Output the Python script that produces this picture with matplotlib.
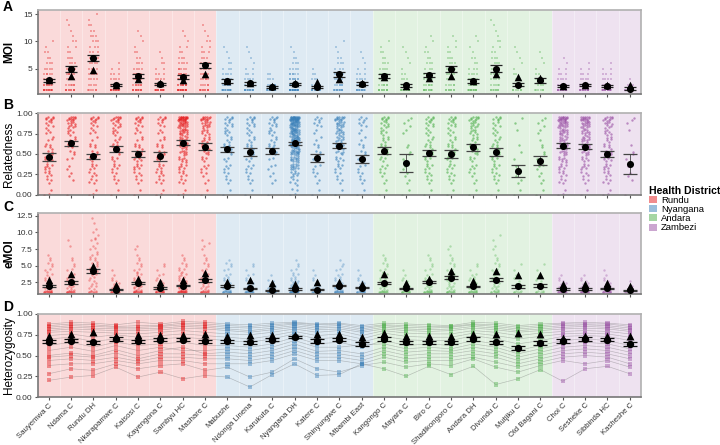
import matplotlib
matplotlib.use('Agg')
import matplotlib.pyplot as plt
import numpy as np
from matplotlib.patches import Patch

plt.rcParams['font.family'] = ['Liberation Sans', 'DejaVu Sans']

sites = ['Sauyemwa C', 'Ndama C', 'Rundu DH', 'Nkarapamwe C', 'Kaisosi C', 'Kayengona C',
         'Sambyu HC', 'Mashare C', 'Mabushe', 'Ndonga Linena', 'Karukuta C', 'Nyangana DH',
         'Katere C', 'Shinyungwe C', 'Mbambi East', 'Kangongo C', 'Mayara C', 'Biro C',
         'Shadikongoro C', 'Andara DH', 'Divundu C', 'Mutjiku C', 'Old Bagani C', 'Choi C',
         'Sesheke C', 'Sibbinda HC', 'Kasheshe C']
districts = ['Rundu', 'Nyangana', 'Andara', 'Zambezi']
district_size = [8, 7, 8, 4]
dcolors = ['#E41A1C', '#377EB8', '#4DAF4A', '#984EA3']

# MOI: number of samples at MOI = 1, 2, 3, ...
moi_counts = [
    [14, 8, 6, 5, 4, 3, 2, 2, 1, 1],
    [10, 6, 5, 5, 4, 3, 3, 2, 2, 2, 1, 1, 1, 1],
    [6, 4, 4, 4, 4, 4, 4, 3, 3, 3, 3, 2, 2, 1, 1],
    [14, 6, 4, 3, 2, 1],
    [12, 7, 6, 5, 4, 3, 2, 2, 1, 1, 1, 1],
    [14, 6, 4, 3, 2, 2, 1, 1],
    [18, 10, 8, 6, 5, 4, 3, 2, 2, 1, 1, 1],
    [10, 5, 5, 5, 4, 4, 3, 3, 2, 2, 1, 1, 1],
    [14, 6, 5, 4, 3, 2, 1, 1, 1],
    [14, 6, 4, 3, 2, 1, 1, 1, 1],
    [12, 5, 3, 2],
    [24, 12, 8, 6, 4, 3, 2, 1, 1],
    [10, 4, 3, 2, 1],
    [12, 6, 5, 4, 3, 3, 2, 1, 1, 1],
    [12, 6, 4, 3, 2, 1, 1, 1],
    [10, 6, 5, 4, 4, 3, 2, 2, 1, 1],
    [10, 4, 3, 2, 1, 1, 1, 1, 1],
    [10, 6, 5, 4, 3, 3, 2, 2, 1, 1, 1],
    [8, 5, 5, 4, 4, 3, 3, 2, 2, 1, 1],
    [12, 6, 5, 4, 3, 2, 2, 1, 1, 1, 1],
    [8, 5, 4, 4, 3, 3, 3, 2, 2, 2, 1, 1, 1, 1],
    [6, 3, 2, 2, 1, 1, 1, 1, 1],
    [6, 3, 3, 2, 1, 1, 1, 1],
    [14, 7, 4, 3, 2, 1, 1],
    [14, 7, 4, 3, 2, 1],
    [14, 6, 4, 3, 2, 1],
    [6, 3, 1],
]
moi_mean = [2.8, 5.0, 7.0, 2.0, 3.6, 2.2, 3.4, 5.6, 2.7, 2.3, 1.6, 2.2, 1.6, 3.9, 2.2,
            3.6, 1.9, 3.8, 4.9, 2.7, 5.0, 2.0, 2.8, 1.7, 1.9, 1.8, 1.3]
moi_tri = [2.8, 3.6, 4.8, 2.0, 3.1, 2.3, 2.8, 3.9, 2.7, 2.4, 1.8, 2.3, 2.5, 3.1, 2.4,
           3.5, 1.8, 3.2, 3.6, 2.7, 3.9, 3.4, 3.3, 1.8, 1.9, 2.0, 1.9]
moi_se = [0.3, 0.55, 0.55, 0.2, 0.35, 0.2, 0.35, 0.5, 0.3, 0.3, 0.2, 0.2, 0.2, 0.45, 0.3,
          0.4, 0.3, 0.45, 0.5, 0.3, 0.6, 0.3, 0.4, 0.2, 0.2, 0.2, 0.2]

# relatedness: pair counts per 0.1 bin (0-0.1 ... 0.9-1.0)
rel_counts = [
    [3, 3, 5, 6, 6, 5, 4, 4, 5, 8],
    [1, 1, 2, 2, 3, 4, 5, 6, 9, 11],
    [3, 4, 4, 5, 5, 4, 3, 4, 5, 8],
    [2, 3, 3, 5, 5, 5, 5, 6, 7, 10],
    [2, 3, 4, 6, 6, 5, 4, 4, 5, 8],
    [3, 4, 5, 5, 5, 4, 4, 4, 4, 6],
    [3, 4, 5, 7, 8, 10, 12, 15, 20, 26],
    [2, 2, 3, 4, 5, 6, 7, 8, 11, 13],
    [2, 3, 3, 4, 4, 5, 5, 6, 6, 6],
    [2, 3, 3, 4, 4, 5, 5, 5, 6, 6],
    [1, 2, 2, 3, 3, 4, 5, 6, 6, 6],
    [4, 5, 8, 13, 16, 22, 26, 30, 34, 40],
    [2, 2, 3, 3, 3, 3, 3, 3, 4, 4],
    [2, 3, 3, 5, 6, 8, 10, 12, 13, 13],
    [2, 3, 3, 3, 3, 3, 3, 3, 4, 4],
    [2, 2, 3, 4, 5, 6, 6, 6, 7, 8],
    [2, 2, 2, 2, 2, 2, 1, 2, 2, 2],
    [2, 3, 4, 5, 5, 5, 5, 5, 6, 7],
    [2, 3, 4, 5, 5, 5, 5, 5, 6, 7],
    [2, 2, 3, 4, 5, 6, 6, 8, 9, 10],
    [2, 3, 4, 5, 5, 5, 5, 5, 5, 6],
    [2, 2, 2, 1, 1, 1, 1, 1, 1, 1],
    [2, 2, 2, 3, 2, 2, 2, 2, 2, 2],
    [3, 4, 5, 7, 8, 10, 12, 15, 18, 22],
    [2, 3, 4, 6, 7, 9, 11, 12, 15, 17],
    [3, 4, 5, 6, 6, 6, 6, 7, 8, 10],
    [1, 1, 2, 1, 2, 1, 1, 1, 1, 2],
]
rel_mean = [0.465, 0.63, 0.47, 0.56, 0.50, 0.47, 0.64, 0.59, 0.555, 0.52, 0.535, 0.63, 0.45, 0.60,
            0.44, 0.54, 0.385, 0.51, 0.50, 0.58, 0.52, 0.29, 0.42, 0.60, 0.59, 0.50, 0.38]
rel_se = [0.05, 0.03, 0.03, 0.04, 0.04, 0.05, 0.03, 0.04, 0.03, 0.05, 0.04, 0.02, 0.05, 0.03,
          0.05, 0.04, 0.11, 0.04, 0.05, 0.04, 0.05, 0.07, 0.06, 0.03, 0.03, 0.04, 0.12]

# eMOI: sample counts per bin
emoi_edges = [1.0, 1.2, 2, 3, 4, 5, 6, 7, 8, 9, 10, 11, 12, 12.4]
emoi_counts = [
    [14, 6, 6, 4, 4, 3, 2],
    [12, 6, 5, 4, 3, 2, 1, 1, 1],
    [8, 4, 4, 5, 6, 5, 4, 4, 3, 2, 2, 1, 1],
    [14, 6, 4, 2, 1],
    [14, 8, 6, 5, 4, 3, 2, 2],
    [14, 6, 4, 3, 2, 1],
    [20, 10, 8, 6, 5, 3, 2],
    [12, 6, 6, 5, 4, 3, 2, 2, 2],
    [14, 8, 5, 4, 3, 3],
    [14, 6, 4, 3, 2, 1],
    [12, 4, 3, 1],
    [24, 14, 8, 5, 3, 2],
    [10, 4, 3, 2, 1],
    [16, 8, 6, 4, 3, 2],
    [12, 6, 4, 2, 1],
    [12, 6, 6, 5, 4, 3, 2],
    [10, 4, 3, 2, 1],
    [12, 6, 5, 4, 3, 2, 2],
    [10, 6, 6, 5, 4, 3, 2, 2],
    [12, 6, 5, 4, 2, 1],
    [8, 6, 5, 4, 4, 3, 2, 2, 1, 1],
    [6, 3, 2, 2, 1, 1],
    [6, 3, 3, 2, 1, 1],
    [16, 8, 4, 2],
    [16, 8, 4, 2],
    [14, 6, 4, 2, 1],
    [6, 2, 1],
]
emoi_mean = [2.0, 2.5, 4.25, 1.4, 2.4, 1.65, 2.0, 2.8, 1.9, 1.6, 1.3, 1.5, 1.4, 2.0, 1.7,
             2.4, 1.6, 2.5, 3.2, 1.9, 2.9, 1.9, 2.0, 1.5, 1.5, 1.6, 1.3]
emoi_tri = [2.9, 3.75, 4.9, 2.15, 3.05, 2.5, 2.8, 3.9, 2.5, 2.9, 2.35, 2.3, 2.6, 2.5, 2.3,
            3.8, 2.4, 3.0, 4.2, 2.7, 4.2, 3.6, 3.6, 2.2, 2.2, 2.4, 1.9]
emoi_se = [0.15, 0.2, 0.3, 0.1, 0.15, 0.1, 0.12, 0.2, 0.15, 0.1, 0.1, 0.08, 0.1, 0.12, 0.1,
           0.2, 0.12, 0.15, 0.2, 0.12, 0.25, 0.2, 0.2, 0.08, 0.08, 0.1, 0.1]

# heterozygosity per locus (x100) across the sites
het_loci = [
    [88, 90, 89, 87, 90, 88, 91, 90, 88, 87, 89, 90, 88, 89, 86, 89, 88, 87, 86, 90, 89, 86, 88, 89, 90, 89, 87],
    [86, 88, 87, 85, 86, 86, 89, 88, 86, 85, 87, 89, 87, 88, 84, 87, 86, 85, 85, 88, 87, 84, 86, 88, 88, 88, 85],
    [84, 86, 85, 84, 84, 85, 87, 86, 84, 83, 85, 88, 85, 86, 82, 86, 84, 83, 84, 87, 85, 82, 84, 86, 87, 86, 83],
    [82, 84, 83, 82, 82, 83, 85, 84, 82, 80, 83, 86, 83, 84, 80, 84, 82, 81, 82, 85, 83, 80, 82, 84, 85, 84, 81],
    [80, 82, 81, 80, 80, 81, 83, 82, 80, 78, 81, 84, 81, 82, 78, 82, 80, 79, 80, 83, 81, 78, 80, 82, 83, 82, 79],
    [78, 79, 78, 77, 76, 78, 80, 78, 76, 75, 78, 82, 78, 80, 74, 80, 77, 76, 76, 80, 78, 74, 77, 79, 80, 79, 76],
    [74, 76, 72, 75, 72, 74, 76, 74, 72, 70, 74, 79, 74, 76, 70, 77, 73, 72, 72, 77, 74, 70, 73, 76, 77, 76, 72],
    [70, 72, 67, 70, 68, 70, 72, 70, 68, 66, 70, 76, 70, 72, 66, 73, 69, 68, 68, 74, 70, 64, 68, 73, 74, 73, 68],
    [62, 66, 60, 66, 62, 64, 66, 62, 62, 60, 64, 72, 64, 66, 60, 68, 62, 64, 62, 68, 64, 56, 62, 68, 70, 68, 62],
    [56, 60, 55, 62, 56, 60, 56, 56, 58, 56, 60, 68, 60, 60, 63, 64, 58, 60, 58, 64, 60, 52, 58, 64, 66, 64, 58],
    [50, 53, 50, 57, 50, 56, 60, 52, 54, 52, 56, 64, 55, 56, 52, 60, 54, 56, 55, 60, 56, 48, 54, 60, 62, 60, 54],
    [48, 50, 48, 53, 46, 52, 52, 50, 50, 48, 52, 60, 52, 52, 48, 56, 50, 52, 52, 56, 52, 44, 50, 56, 58, 56, 50],
    [44, 46, 44, 48, 43, 48, 48, 46, 46, 44, 48, 56, 48, 48, 44, 52, 46, 48, 48, 52, 48, 40, 46, 52, 54, 52, 46],
    [38, 40, 40, 44, 40, 44, 44, 40, 40, 40, 44, 52, 44, 44, 40, 48, 42, 44, 44, 48, 42, 36, 42, 48, 50, 48, 40],
    [28, 34, 32, 40, 34, 38, 40, 32, 36, 24, 30, 46, 34, 30, 38, 42, 36, 40, 38, 46, 36, 30, 38, 44, 40, 44, 36],
    [20, 24, 26, 36, 24, 30, 22, 26, 24, 12, 27, 40, 26, 27, 40, 34, 25, 37, 27, 37, 15, 22, 33, 19, 34, 37, 28],
]
het_mean = [0.665, 0.68, 0.66, 0.70, 0.67, 0.69, 0.69, 0.67, 0.67, 0.66, 0.69, 0.72, 0.675, 0.69,
            0.64, 0.70, 0.66, 0.66, 0.66, 0.70, 0.66, 0.59, 0.65, 0.675, 0.70, 0.69, 0.64]
het_tri = [0.74, 0.76, 0.78, 0.73, 0.75, 0.745, 0.75, 0.755, 0.73, 0.75, 0.75, 0.75, 0.755, 0.76,
           0.72, 0.775, 0.74, 0.73, 0.74, 0.76, 0.755, 0.775, 0.755, 0.715, 0.735, 0.74, 0.73]
het_se = [0.02, 0.02, 0.02, 0.02, 0.02, 0.02, 0.02, 0.02, 0.02, 0.02, 0.02, 0.015, 0.02, 0.02,
          0.02, 0.02, 0.02, 0.02, 0.02, 0.02, 0.02, 0.025, 0.02, 0.02, 0.02, 0.02, 0.02]

n = len(sites)
x = np.arange(n)
site_color = []
for d, k in enumerate(district_size):
    site_color += [dcolors[d]] * k


def spread(m, k=0):
    # low-discrepancy offsets, used only for point placement
    i = np.arange(m) + k * 5
    return (i * 0.7548777) % 1 - 0.5, (i * 0.5698403) % 1


def base(ax, ylim, yticks, yticklabels, ylabel, bold):
    start = 0
    for d, k in enumerate(district_size):
        ax.axvspan(start - 0.5, start + k - 0.5, color=dcolors[d], alpha=0.16, lw=0, zorder=0)
        start += k
    for b in range(1, n):
        ax.axvline(b - 0.5, color='white', lw=0.5, alpha=0.5, zorder=1)
    ax.set_xlim(-0.5, n - 0.5)
    ax.set_ylim(*ylim)
    ax.set_yticks(yticks)
    ax.set_yticklabels(yticklabels)
    ax.set_xticks(x)
    ax.tick_params(axis='both', labelsize=6, length=2, color='#555555', labelcolor='#333333', pad=1.5)
    ax.set_ylabel(ylabel, fontsize=8.5, fontweight='bold' if bold else 'normal', labelpad=2)
    ax.yaxis.set_label_coords(-0.037, 0.5)
    for s in ['top', 'right']:
        ax.spines[s].set_color('#b0b0b0')
    for s in ['left', 'bottom']:
        ax.spines[s].set_color('#777777')
    for s in ax.spines.values():
        s.set_linewidth(1.2)


fig = plt.figure(figsize=(7.2, 4.45), dpi=100)
W = 603.5 / 720
L = 37.5 / 720
axA = fig.add_axes([L, 1 - 94 / 445, W, 84 / 445])
axB = fig.add_axes([L, 1 - 195 / 445, W, 82 / 445])
axC = fig.add_axes([L, 1 - 294 / 445, W, 81 / 445])
axD = fig.add_axes([L, 1 - 397 / 445, W, 83 / 445])

# A: MOI
base(axA, (0.3, 15.8), [5, 10, 15], ['5', '10', '15'], 'MOI', True)
for i, counts in enumerate(moi_counts):
    for k, c in enumerate(counts):
        dx, _ = spread(c, k)
        axA.scatter(i + dx * 0.45, np.full(c, k + 1), s=4.5, marker='s', color=site_color[i],
                    alpha=0.32, lw=0, zorder=2)
axA.errorbar(x, moi_mean, yerr=moi_se, fmt='none', ecolor='#222222', elinewidth=0.6,
             capsize=4.5, capthick=0.9, zorder=4)
axA.scatter(x, moi_tri, marker='^', s=30, color='black', zorder=5, lw=0)
axA.scatter(x, moi_mean, marker='o', s=26, color='black', zorder=6, lw=0)
axA.set_xticklabels([])

# B: relatedness
base(axB, (0, 1), [0, 0.25, 0.5, 0.75, 1.0], ['0.00', '0.25', '0.50', '0.75', '1.00'],
     'Relatedness', False)
for i, counts in enumerate(rel_counts):
    for k, c in enumerate(counts):
        dx, fy = spread(c, k)
        lo, hi = k * 0.1 + 0.005, min(k * 0.1 + 0.1, 0.96)
        axB.scatter(i + dx * 0.4, lo + fy * (hi - lo), s=3, color=site_color[i],
                    alpha=0.6, lw=0, zorder=2)
axB.errorbar(x, rel_mean, yerr=rel_se, fmt='none', ecolor='#444444', elinewidth=0.6,
             capsize=5, capthick=0.9, zorder=4)
axB.scatter(x, rel_mean, marker='o', s=26, color='black', zorder=6, lw=0)
axB.set_xticklabels([])

# C: eMOI
base(axC, (0.75, 12.9), [2.5, 5, 7.5, 10, 12.5], ['2.5', '5.0', '7.5', '10.0', '12.5'], 'eMOI', True)
for i, counts in enumerate(emoi_counts):
    for k, c in enumerate(counts):
        dx, fy = spread(c, k)
        lo, hi = emoi_edges[k], emoi_edges[k + 1]
        axC.scatter(i + dx * 0.4, lo + fy * (hi - lo), s=3, color=site_color[i],
                    alpha=0.35, lw=0, zorder=2)
axC.errorbar(x, emoi_mean, yerr=emoi_se, fmt='none', ecolor='#333333', elinewidth=0.6,
             capsize=5, capthick=0.9, zorder=4)
axC.scatter(x, emoi_tri, marker='^', s=30, color='black', zorder=5, lw=0)
axC.scatter(x, emoi_mean, marker='o', s=26, color='black', zorder=6, lw=0)
axC.set_xticklabels([])

# D: heterozygosity
base(axD, (0, 1), [0, 0.25, 0.5, 0.75, 1.0], ['0.00', '0.25', '0.50', '0.75', '1.00'],
     'Heterozygosity', False)
for locus in het_loci:
    h = np.array(locus) / 100
    axD.plot(x, h, color='#555555', lw=0.45, alpha=0.35, zorder=2)
    axD.scatter(x, h, s=9, marker='s', c=site_color, alpha=0.42, lw=0, zorder=3)
axD.errorbar(x, het_mean, yerr=het_se, fmt='none', ecolor='#111111', elinewidth=0.6,
             capsize=5, capthick=0.9, zorder=4)
axD.scatter(x, het_tri, marker='^', s=32, color='black', zorder=5, lw=0)
axD.scatter(x, het_mean, marker='o', s=28, color='black', zorder=6, lw=0)
axD.set_xticklabels(sites, rotation=45, ha='right', rotation_mode='anchor', fontsize=5.6)

for lab, ypx in zip('ABCD', [7, 105, 207, 307]):
    fig.text(0.004, 1 - ypx / 445, lab, fontsize=10, fontweight='bold', va='center')

handles = [Patch(facecolor=c, alpha=0.5, lw=0) for c in dcolors]
leg = fig.legend(handles, districts, title='Health District', loc='upper left',
                 bbox_to_anchor=(0.892, 1 - 179 / 445), frameon=False, fontsize=6.8,
                 title_fontsize=7.6, handlelength=0.9, handleheight=0.75, labelspacing=0.02,
                 handletextpad=0.4, alignment='left', borderpad=0.2)
leg.get_title().set_fontweight('bold')

fig.savefig('out.png', dpi=100)
